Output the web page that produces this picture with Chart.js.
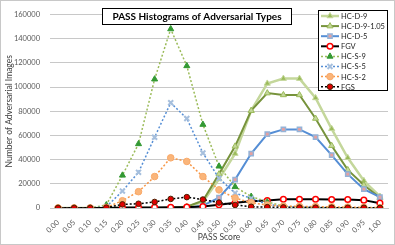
<!DOCTYPE html>
<html lang="en">
<head>
<meta charset="UTF-8">
<title>PASS Histograms of Adversarial Types</title>
<script src="https://cdn.jsdelivr.net/npm/chart.js"></script>
<style>
    body { margin: 0; background: #fff; }
    #passChart { display: block; }
</style>
</head>
<body>
<canvas id="passChart" width="395" height="245"></canvas>
<script>
// PASS score bins
const scores = ['0.00','0.05','0.10','0.15','0.20','0.25','0.30','0.35','0.40','0.45','0.50',
                '0.55','0.60','0.65','0.70','0.75','0.80','0.85','0.90','0.95','1.00'];

// counts per bin
const hcD9    = [0,0,0,0,0,0,0,0,1000,5000,24000,45000,80500,103000,107000,107000,91000,65500,41500,22500,9500];
const hcD9105 = [0,0,0,0,0,0,0,0,1000,6000,28000,51000,80500,95000,93500,93500,74000,51500,31500,19000,8500];
const hcD5    = [0,0,0,0,0,0,0,0,0,2000,8500,23500,45000,61000,65000,65000,58700,43700,28000,15600,9000];
const fgv     = [0,0,0,0,400,400,500,600,700,1300,2700,4300,5500,6200,7200,7200,7200,7000,7000,6500,4000];
const hcS9    = [0,0,0,2500,27000,53000,106500,148000,117500,69000,34500,17500,9500,5000,1500,800,500,300,200,100,0];
const hcS5    = [0,0,0,1000,14000,29500,58500,87000,74000,45500,24500,12300,8000,3000,1200,800,500,300,200,100,0];
const hcS2    = [0,0,0,500,6000,13500,26000,41500,38500,26000,15000,8200,4400,2500,1500,1300,1200,1000,800,500,300];
const fgs     = [0,0,0,300,3000,3500,5000,7500,9000,7000,4500,2500,1000,700,500,400,300,300,200,200,100];

const yTicks = [0, 20000, 40000, 60000, 80000, 100000, 120000, 140000, 160000];

const FONT = 'Lato, "Liberation Sans", sans-serif';

function series(label, data, line, dash, width, style, radius, fill, edge, edgeWidth, idx) {
    return {
        label: label,
        data: data,
        borderColor: line,
        borderWidth: width,
        borderDash: dash,
        pointStyle: style,
        pointRadius: radius,
        pointBackgroundColor: fill,
        pointBorderColor: edge,
        pointBorderWidth: edgeWidth,
        tension: 0,
        fill: false,
        order: 8 - idx   // later series on top, like Excel
    };
}

const datasets = [
    series('HC-D-9',      hcD9,    '#c4d79b', [],     2.5, 'triangle', 3.5, '#9bbb59', '#c4d79b', 1, 0),
    series('HC-D-9-1.05', hcD9105, '#77933c', [],     2,   'triangle', 3.5, '#c4d79b', '#9bbb59', 1, 1),
    series('HC-D-5',      hcD5,    '#558ed5', [],     2,   'rect',     3,   '#e6a0a0', '#95b3d7', 1.5, 2),
    series('FGV',         fgv,     '#000000', [],     2,   'circle',   2.8, '#ffffff', '#ff0000', 1.5, 3),
    series('HC-S-9',      hcS9,    '#9bbb59', [2, 2], 1.5, 'triangle', 3.5, '#339933', '#339933', 1, 4),
    series('HC-S-5',      hcS5,    '#558ed5', [2, 2], 1.5, 'crossRot', 3.5, '#b9cde5', '#a6bfdd', 2, 5),
    series('HC-S-2',      hcS2,    '#f79646', [2, 2], 1.5, 'circle',   3.3, '#fab57a', '#f9a969', 1, 6),
    series('FGS',         fgs,     '#000000', [2, 2], 1.5, 'circle',   2.8, '#e00000', '#4a2000', 1, 7)
];

// title box and legend box sit on top of the plot, Excel style
const overlayPlugin = {
    id: 'overlay',
    afterDraw(chart) {
        const ctx = chart.ctx;
        ctx.save();

        // outer chart border
        ctx.strokeStyle = '#c8c8c8';
        ctx.lineWidth = 1;
        ctx.strokeRect(0.5, 0.5, 394, 244);

        // title
        ctx.fillStyle = '#fff';
        ctx.fillRect(102.5, 8.5, 189, 16);
        ctx.strokeStyle = '#000';
        ctx.strokeRect(102.5, 8.5, 189, 16);
        ctx.fillStyle = '#000';
        ctx.font = 'bold 10px ' + FONT;
        ctx.textAlign = 'center';
        ctx.textBaseline = 'middle';
        ctx.fillText('PASS Histograms of Adversarial Types', 197, 17);

        // legend
        ctx.fillStyle = '#fff';
        ctx.fillRect(318.5, 10.5, 69, 80);
        ctx.strokeRect(318.5, 10.5, 69, 80);
        ctx.font = '7.5px ' + FONT;
        ctx.textAlign = 'left';
        chart.data.datasets.forEach((ds, i) => {
            const y = 16 + i * 10.1;
            ctx.beginPath();
            ctx.setLineDash(ds.borderDash);
            ctx.strokeStyle = ds.borderColor;
            ctx.lineWidth = ds.borderWidth;
            ctx.moveTo(321, y);
            ctx.lineTo(339, y);
            ctx.stroke();
            ctx.setLineDash([]);
            ctx.fillStyle = ds.pointBackgroundColor;
            ctx.strokeStyle = ds.pointBorderColor;
            ctx.lineWidth = ds.pointBorderWidth;
            Chart.helpers.drawPoint(ctx, {
                pointStyle: ds.pointStyle,
                radius: ds.pointRadius,
                borderWidth: ds.pointBorderWidth,
                rotation: 0
            }, 330, y);
            ctx.fillStyle = '#222';
            ctx.fillText(ds.label, 341, y + 0.5);
        });
        ctx.restore();
    }
};

new Chart(document.getElementById('passChart'), {
    type: 'line',
    data: { labels: scores, datasets: datasets },
    plugins: [overlayPlugin],
    options: {
        responsive: false,
        animation: false,
        layout: { padding: { left: 0, right: 7, top: 14, bottom: 0 } },
        plugins: {
            legend: { display: false },
            title: { display: false },
            tooltip: { enabled: false }
        },
        scales: {
            x: {
                offset: true,
                grid: { display: false },
                border: { display: true, color: '#c8c8c8' },
                ticks: {
                    autoSkip: false,
                    minRotation: 45,
                    maxRotation: 45,
                    padding: 2,
                    color: '#595959',
                    font: { family: FONT, size: 7.5 }
                },
                title: {
                    display: true,
                    text: 'PASS Score',
                    color: '#404040',
                    padding: { top: 0, bottom: 3 },
                    font: { family: FONT, size: 8.5 }
                },
                afterFit(axis) { axis.height = 37; }
            },
            y: {
                min: 0,
                max: 160000,
                afterBuildTicks(axis) { axis.ticks = yTicks.map(v => ({ value: v })); },
                grid: { color: '#c8c8c8', drawTicks: false },
                border: { display: false },
                ticks: {
                    padding: 10,
                    color: '#595959',
                    font: { family: FONT, size: 7.5 },
                    callback: v => String(v)
                },
                title: {
                    display: true,
                    text: 'Number of Adversarial Images',
                    color: '#404040',
                    padding: { top: 4, bottom: 0 },
                    font: { family: FONT, size: 8.5 }
                },
                afterFit(axis) { axis.width = 50; }
            }
        }
    }
});
</script>
</body>
</html>
